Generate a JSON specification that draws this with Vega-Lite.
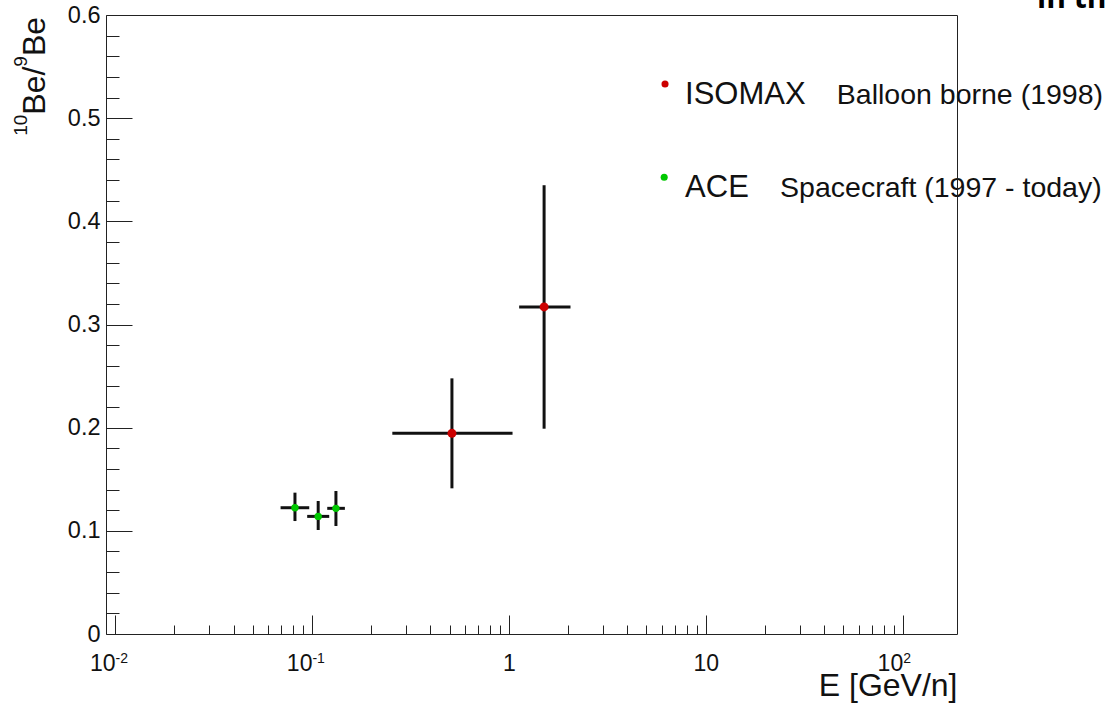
{
  "$schema": "https://vega.github.io/schema/vega-lite/v6.json",
  "width": 851,
  "height": 619,
  "autosize": {"type": "none"},
  "padding": {"left": 106, "top": 15, "right": 156, "bottom": 71},
  "background": "white",
  "config": {
    "view": {"stroke": null},
    "font": "Liberation Sans",
    "axis": {
      "grid": false,
      "domainColor": "#222",
      "tickColor": "#222",
      "labelColor": "#111",
      "titleColor": "#111",
      "labelFont": "Liberation Sans",
      "titleFont": "Liberation Sans",
      "titleFontWeight": "normal"
    }
  },
  "datasets": {
    "measurements": [
      {"experiment": "ISOMAX", "E": 0.514, "E_low": 0.256, "E_high": 1.044, "ratio": 0.1945, "ratio_low": 0.1412, "ratio_high": 0.2478},
      {"experiment": "ISOMAX", "E": 1.51, "E_low": 1.128, "E_high": 2.056, "ratio": 0.317, "ratio_low": 0.199, "ratio_high": 0.435},
      {"experiment": "ACE", "E": 0.082, "E_low": 0.0693, "E_high": 0.0969, "ratio": 0.1224, "ratio_low": 0.1095, "ratio_high": 0.137},
      {"experiment": "ACE", "E": 0.1076, "E_low": 0.0946, "E_high": 0.1224, "ratio": 0.114, "ratio_low": 0.1008, "ratio_high": 0.1289},
      {"experiment": "ACE", "E": 0.1324, "E_low": 0.1196, "E_high": 0.147, "ratio": 0.1218, "ratio_low": 0.1047, "ratio_high": 0.1386}
    ],
    "experiments": [
      {"experiment": "ISOMAX", "description": "Balloon borne (1998)"},
      {"experiment": "ACE", "description": "Spacecraft (1997 - today)"}
    ]
  },
  "layer": [
    {
      "data": {"name": "measurements"},
      "mark": {"type": "rule", "strokeWidth": 3, "color": "#111"},
      "encoding": {
        "x": {
          "field": "E_low",
          "type": "quantitative",
          "scale": {"type": "log", "domain": [0.009, 188.7], "nice": false},
          "axis": {
            "orient": "bottom",
            "values": [0.01, 0.02, 0.03, 0.04, 0.05, 0.06, 0.07, 0.08, 0.09, 0.1, 0.2, 0.3, 0.4, 0.5, 0.6, 0.7, 0.8, 0.9, 1, 2, 3, 4, 5, 6, 7, 8, 9, 10, 20, 30, 40, 50, 60, 70, 80, 90, 100],
            "labelExpr": "datum.value == 0.01 || datum.value == 0.1 || datum.value == 100 ? '10' : ''",
            "tickSize": {"condition": {"test": "datum.value == 0.01 || datum.value == 0.1 || datum.value == 1 || datum.value == 10 || datum.value == 100", "value": -19}, "value": -9},
            "labelFontSize": 23,
            "labelAlign": "right",
            "labelDx": 5,
            "labelBaseline": "alphabetic",
            "labelPadding": 55,
            "labelFlush": false,
            "labelOverlap": false,
            "title": "E [GeV/n]",
            "titleFontSize": 32,
            "titleX": 851,
            "titleY": 61,
            "titleAlign": "right",
            "titleBaseline": "alphabetic"
          }
        },
        "x2": {"field": "E_high"},
        "y": {
          "field": "ratio",
          "type": "quantitative",
          "scale": {"domain": [0, 0.6], "nice": false, "zero": false},
          "axis": {
            "orient": "left",
            "values": [0, 0.02, 0.04, 0.06, 0.08, 0.1, 0.12, 0.14, 0.16, 0.18, 0.2, 0.22, 0.24, 0.26, 0.28, 0.3, 0.32, 0.34, 0.36, 0.38, 0.4, 0.42, 0.44, 0.46, 0.48, 0.5, 0.52, 0.54, 0.56, 0.58, 0.6],
            "format": ".1~f",
            "labelExpr": "round(datum.value * 50) % 5 == 0 ? datum.label : ''",
            "tickSize": {"condition": {"test": "round(datum.value * 50) % 5 == 0", "value": -26}, "value": -13},
            "labelFontSize": 23.5,
            "labelPadding": 32,
            "labelFlush": false,
            "labelOverlap": false,
            "title": null
          }
        }
      }
    },
    {
      "data": {"name": "measurements"},
      "mark": {"type": "rule", "strokeWidth": 3, "color": "#111"},
      "encoding": {
        "x": {
          "field": "E",
          "type": "quantitative",
          "axis": {
            "orient": "bottom",
            "values": [1, 10],
            "labelExpr": "datum.value == 1 ? '1' : '10'",
            "domain": false,
            "ticks": false,
            "labelFontSize": 23,
            "labelAlign": "center",
            "labelBaseline": "alphabetic",
            "labelPadding": 36,
            "labelFlush": false,
            "labelOverlap": false,
            "title": null
          }
        },
        "y": {"field": "ratio_low", "type": "quantitative", "axis": null},
        "y2": {"field": "ratio_high"}
      }
    },
    {
      "data": {"name": "measurements"},
      "mark": {"type": "circle", "opacity": 1},
      "encoding": {
        "x": {
          "field": "E",
          "type": "quantitative",
          "axis": {
            "orient": "bottom",
            "values": [0.01, 0.1, 100],
            "labelExpr": "datum.value == 0.01 ? '-2' : datum.value == 0.1 ? '-1' : '2'",
            "domain": false,
            "ticks": false,
            "labelFontSize": 14,
            "labelAlign": "left",
            "labelDx": 5,
            "labelBaseline": "alphabetic",
            "labelPadding": 28,
            "labelFlush": false,
            "labelOverlap": false,
            "title": null
          }
        },
        "y": {"field": "ratio", "type": "quantitative", "axis": null},
        "color": {"field": "experiment", "type": "nominal", "scale": {"domain": ["ISOMAX", "ACE"], "range": ["#cc0000", "#00c800"]}, "legend": null},
        "size": {"field": "experiment", "type": "nominal", "scale": {"domain": ["ISOMAX", "ACE"], "range": [80, 55]}, "legend": null}
      }
    },
    {
      "data": {"name": "experiments"},
      "transform": [{"filter": "datum.experiment == 'ISOMAX'"}],
      "layer": [
        {
          "mark": {"type": "circle", "size": 50, "opacity": 1, "color": "#cc0000"},
          "encoding": {
            "x": {"datum": 6.21, "type": "quantitative", "axis": null},
            "y": {"datum": 0.5331, "type": "quantitative", "axis": null}
          }
        },
        {
          "mark": {"type": "text", "align": "left", "baseline": "alphabetic", "fontSize": 31, "color": "#111"},
          "encoding": {
            "x": {"datum": 7.85, "type": "quantitative", "axis": null},
            "y": {"datum": 0.5137, "type": "quantitative", "axis": null},
            "text": {"field": "experiment"}
          }
        },
        {
          "mark": {"type": "text", "align": "left", "baseline": "alphabetic", "fontSize": 28.5, "color": "#111"},
          "encoding": {
            "x": {"datum": 46.3, "type": "quantitative", "axis": null},
            "y": {"datum": 0.5137, "type": "quantitative", "axis": null},
            "text": {"field": "description"}
          }
        }
      ]
    },
    {
      "data": {"name": "experiments"},
      "transform": [{"filter": "datum.experiment == 'ACE'"}],
      "layer": [
        {
          "mark": {"type": "circle", "size": 50, "opacity": 1, "color": "#00c800"},
          "encoding": {
            "x": {"datum": 6.15, "type": "quantitative", "axis": null},
            "y": {"datum": 0.4427, "type": "quantitative", "axis": null}
          }
        },
        {
          "mark": {"type": "text", "align": "left", "baseline": "alphabetic", "fontSize": 31, "color": "#111"},
          "encoding": {
            "x": {"datum": 7.85, "type": "quantitative", "axis": null},
            "y": {"datum": 0.4233, "type": "quantitative", "axis": null},
            "text": {"field": "experiment"}
          }
        },
        {
          "mark": {"type": "text", "align": "left", "baseline": "alphabetic", "fontSize": 28.5, "color": "#111"},
          "encoding": {
            "x": {"datum": 23.85, "type": "quantitative", "axis": null},
            "y": {"datum": 0.4233, "type": "quantitative", "axis": null},
            "text": {"field": "description"}
          }
        }
      ]
    },
    {
      "data": {"values": [{"part": "Be"}]},
      "mark": {"type": "text", "angle": 270, "align": "right", "baseline": "alphabetic", "fontSize": 32, "color": "#111"},
      "encoding": {
        "x": {"datum": 0.004411, "type": "quantitative", "axis": null},
        "y": {"datum": 0.5981, "type": "quantitative", "axis": null},
        "text": {"field": "part"}
      }
    },
    {
      "data": {"values": [{"part": "9"}]},
      "mark": {"type": "text", "angle": 270, "align": "right", "baseline": "alphabetic", "fontSize": 19, "color": "#111"},
      "encoding": {
        "x": {"datum": 0.003573, "type": "quantitative", "axis": null},
        "y": {"datum": 0.5602, "type": "quantitative", "axis": null},
        "text": {"field": "part"}
      }
    },
    {
      "data": {"values": [{"part": "Be/"}]},
      "mark": {"type": "text", "angle": 270, "align": "right", "baseline": "alphabetic", "fontSize": 32, "color": "#111"},
      "encoding": {
        "x": {"datum": 0.004411, "type": "quantitative", "axis": null},
        "y": {"datum": 0.5499, "type": "quantitative", "axis": null},
        "text": {"field": "part"}
      }
    },
    {
      "data": {"values": [{"part": "10"}]},
      "mark": {"type": "text", "angle": 270, "align": "right", "baseline": "alphabetic", "fontSize": 19, "color": "#111"},
      "encoding": {
        "x": {"datum": 0.003573, "type": "quantitative", "axis": null},
        "y": {"datum": 0.5034, "type": "quantitative", "axis": null},
        "text": {"field": "part"}
      }
    },
    {
      "data": {"values": [{"caption": "in th"}]},
      "mark": {"type": "text", "align": "left", "baseline": "alphabetic", "fontSize": 30, "fontWeight": "bold", "font": "Open Sans", "color": "#000"},
      "encoding": {
        "x": {"datum": 481.5, "type": "quantitative", "axis": null},
        "y": {"datum": 0.6068, "type": "quantitative", "axis": null},
        "text": {"field": "caption"}
      }
    },
    {
      "data": {"name": "measurements"},
      "mark": {"type": "point", "opacity": 0},
      "encoding": {
        "x": {"field": "E", "type": "quantitative", "axis": {"orient": "top", "domain": true, "ticks": false, "labels": false, "title": null, "zindex": 1}},
        "y": {"field": "ratio", "type": "quantitative", "axis": {"orient": "right", "domain": true, "ticks": false, "labels": false, "title": null, "zindex": 1}}
      }
    }
  ],
  "resolve": {"axis": {"x": "independent", "y": "independent"}}
}
